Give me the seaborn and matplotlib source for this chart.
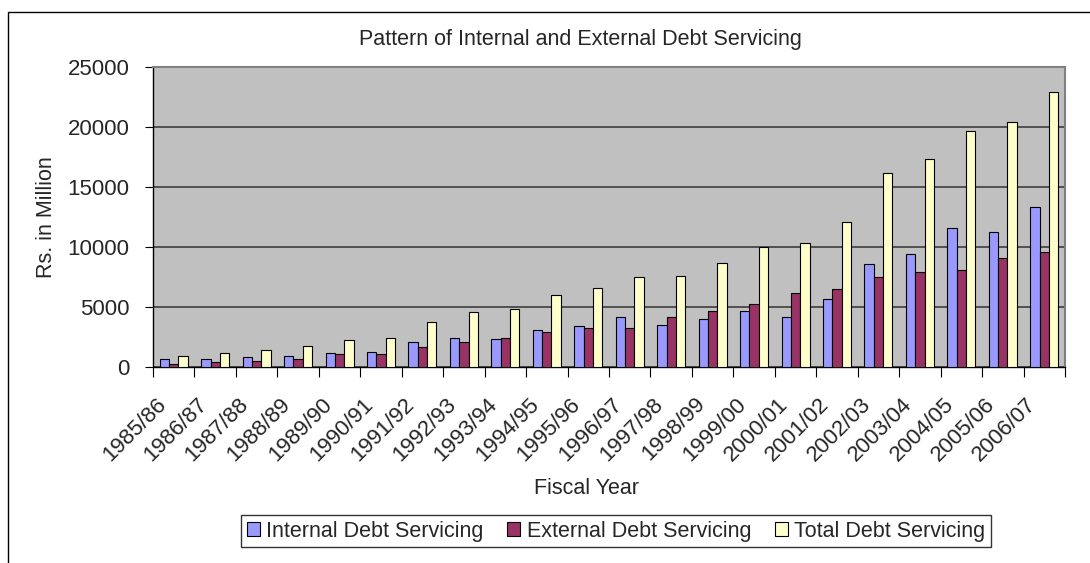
import matplotlib
matplotlib.use("Agg")
import matplotlib.pyplot as plt
from matplotlib.patches import Rectangle
import numpy as np
import pandas as pd
import seaborn as sns

# Fiscal years and debt servicing (Rs. in million)
years = ["1985/86", "1986/87", "1987/88", "1988/89", "1989/90", "1990/91",
         "1991/92", "1992/93", "1993/94", "1994/95", "1995/96", "1996/97",
         "1997/98", "1998/99", "1999/00", "2000/01", "2001/02", "2002/03",
         "2003/04", "2004/05", "2005/06", "2006/07"]
internal = [640, 640, 830, 950, 1140, 1250, 2110, 2420, 2310, 3080, 3390,
            4170, 3470, 3970, 4670, 4170, 5670, 8580, 9390, 11610, 11220, 13310]
external = [250, 420, 530, 670, 1060, 1060, 1640, 2110, 2420, 2890, 3280,
            3280, 4170, 4670, 5250, 6140, 6530, 7500, 7890, 8110, 9080, 9580]
total = [940, 1140, 1420, 1750, 2220, 2420, 3780, 4560, 4860, 6030, 6610,
         7500, 7580, 8690, 9970, 10360, 12110, 16140, 17330, 19690, 20390, 22900]
series_names = ["Internal Debt Servicing", "External Debt Servicing",
                "Total Debt Servicing"]
y_ticks = [0, 5000, 10000, 15000, 20000, 25000]

df = pd.DataFrame({
    "Fiscal Year": years * 3,
    "Value": internal + external + total,
    "Series": [series_names[0]] * len(years) + [series_names[1]] * len(years)
              + [series_names[2]] * len(years),
})

sns.set_style("ticks")
plt.rcParams["font.family"] = ["Liberation Sans", "DejaVu Sans"]
FS = 15.5
TFS = 16

W, H = 1090, 563
fig = plt.figure(figsize=(W / 100, H / 100), dpi=100)
fig.patch.set_facecolor("white")

# chart frame
fig.patches.append(Rectangle((8 / W, -0.1), 1.2, (H - 12) / H + 0.1,
                             transform=fig.transFigure, fill=False,
                             edgecolor="black", linewidth=1.0))

ax = fig.add_axes([153 / W, (H - 367) / H, (1065 - 153) / W, 300 / H])
ax.set_facecolor("#C0C0C0")

palette = {series_names[0]: "#9999FF", series_names[1]: "#993366",
           series_names[2]: "#FFFFCC"}
sns.barplot(data=df, x="Fiscal Year", y="Value", hue="Series",
            palette=palette, width=0.675, gap=0, edgecolor="black",
            linewidth=0.8, saturation=1, ax=ax, zorder=3)

ax.set_ylim(0, 25000)
ax.set_xlim(-0.5, len(years) - 0.5)
ax.set_yticks(y_ticks)
ax.set_yticklabels([str(v) for v in y_ticks], fontsize=TFS)
ax.yaxis.grid(True, color="#333333", linewidth=1.1, zorder=0)
ax.set_axisbelow(True)

# category boundaries carry the tick marks
ax.set_xticks(np.arange(len(years) + 1) - 0.5, minor=False)
ax.set_xticklabels([])
ax.tick_params(axis="x", direction="out", length=7, width=0.8, color="black")
ax.tick_params(axis="y", direction="out", length=6, width=0.8, color="black",
               pad=11)
for i, lab in enumerate(years):
    ax.annotate(lab, xy=(i, 0), xycoords=("data", "axes fraction"),
                xytext=(-11, -34), textcoords="offset pixels",
                rotation=45, ha="right", va="center",
                rotation_mode="anchor", fontsize=TFS)

for side in ["left", "bottom"]:
    ax.spines[side].set_color("black")
    ax.spines[side].set_linewidth(1.0)
for side in ["top", "right"]:
    ax.spines[side].set_color("#808080")
    ax.spines[side].set_linewidth(1.5)

ax.set_xlabel("")
ax.set_ylabel("")
fig.text(47 / W, 1 - 217 / H, "Rs. in Million", rotation=90,
         ha="center", va="center", fontsize=FS)
fig.text(587 / W, 1 - 489 / H, "Fiscal Year", ha="center", va="center",
         fontsize=FS)
fig.text(580 / W, 1 - 40 / H, "Pattern of Internal and External Debt Servicing",
         ha="center", va="center", fontsize=FS)

handles, labels = ax.get_legend_handles_labels()
ax.legend_.remove()
leg = fig.legend(handles, labels, loc="center", ncol=3,
                 bbox_to_anchor=(616 / W, 1 - 531 / H),
                 fontsize=FS, frameon=True, fancybox=False,
                 edgecolor="black", handlelength=0.6, handleheight=0.6,
                 handletextpad=0.3, columnspacing=1.1, borderpad=0.25,
                 borderaxespad=0)
leg.get_frame().set_linewidth(1.0)

fig.savefig("out.png", dpi=100)
